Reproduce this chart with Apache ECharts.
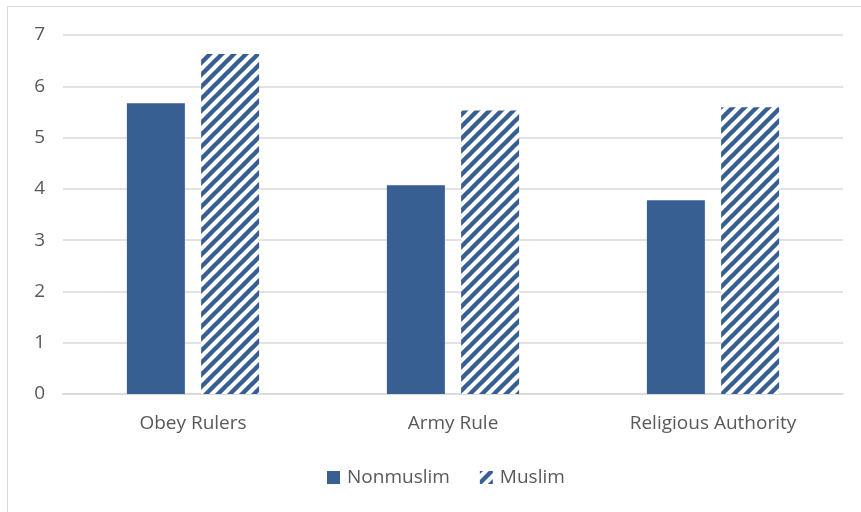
<!DOCTYPE html>
<html>
<head>
<meta charset="utf-8">
<script src="https://cdn.jsdelivr.net/npm/echarts@6/dist/echarts.min.js"></script>
<style>html,body{margin:0;padding:0;background:#fff;}#c{width:861px;height:512px;}</style>
</head>
<body>
<div id="c"></div>
<script>
const categories = ['Obey Rulers', 'Army Rule', 'Religious Authority'];
const nonmuslim = [5.67, 4.07, 3.78];
const muslim = [6.63, 5.53, 5.59];
const yTicks = [0, 1, 2, 3, 4, 5, 6, 7];

const BLUE = '#375F91';
function stripePattern() {
  const s = 12;
  const cv = document.createElement('canvas');
  cv.width = s; cv.height = s;
  const ctx = cv.getContext('2d');
  ctx.fillStyle = '#fff';
  ctx.fillRect(0, 0, s, s);
  ctx.strokeStyle = BLUE;
  ctx.lineWidth = 4.4;
  ctx.beginPath();
  for (let k = -1; k <= 1; k++) {
    ctx.moveTo(k * s - 2, s + 2);
    ctx.lineTo(k * s + s + 2, -2);
  }
  ctx.stroke();
  return cv;
}
const pat = { image: stripePattern(), repeat: 'repeat' };

const chart = echarts.init(document.getElementById('c'), null, { renderer: 'canvas' });
const font = 'Open Sans';
chart.setOption({
  animation: false,
  backgroundColor: '#fff',
  graphic: [{
    type: 'rect', shape: { x: 7.5, y: 6.5, width: 1000, height: 1000 },
    style: { fill: 'none', stroke: '#D9D9D9', lineWidth: 1 }, silent: true, z: -1
  }],
  grid: { left: 63, right: 18, top: 35, bottom: 118, containLabel: false },
  legend: {
    data: ['Nonmuslim', 'Muslim'],
    bottom: 20, left: 322, icon: 'rect',
    itemWidth: 13, itemHeight: 13, itemGap: 30,
    textStyle: { color: '#595959', fontSize: 19, fontFamily: font, padding: [0, 0, 0, 2] }
  },
  xAxis: {
    type: 'category', data: categories,
    axisLine: { lineStyle: { color: '#D9D9D9', width: 1.5 } },
    axisTick: { show: false },
    axisLabel: { color: '#595959', fontSize: 19, fontFamily: font, margin: 20 }
  },
  yAxis: {
    type: 'value', min: yTicks[0], max: yTicks[yTicks.length - 1], interval: 1,
    axisLine: { show: false }, axisTick: { show: false },
    splitLine: { lineStyle: { color: '#D9D9D9', width: 1.5 } },
    axisLabel: { color: '#595959', fontSize: 19, fontFamily: font, margin: 18 }
  },
  series: [
    { name: 'Nonmuslim', type: 'bar', data: nonmuslim, barWidth: 58, barGap: '28%',
      itemStyle: { color: BLUE } },
    { name: 'Muslim', type: 'bar', data: muslim, barWidth: 58,
      itemStyle: { color: pat } }
  ]
});
</script>
</body>
</html>
